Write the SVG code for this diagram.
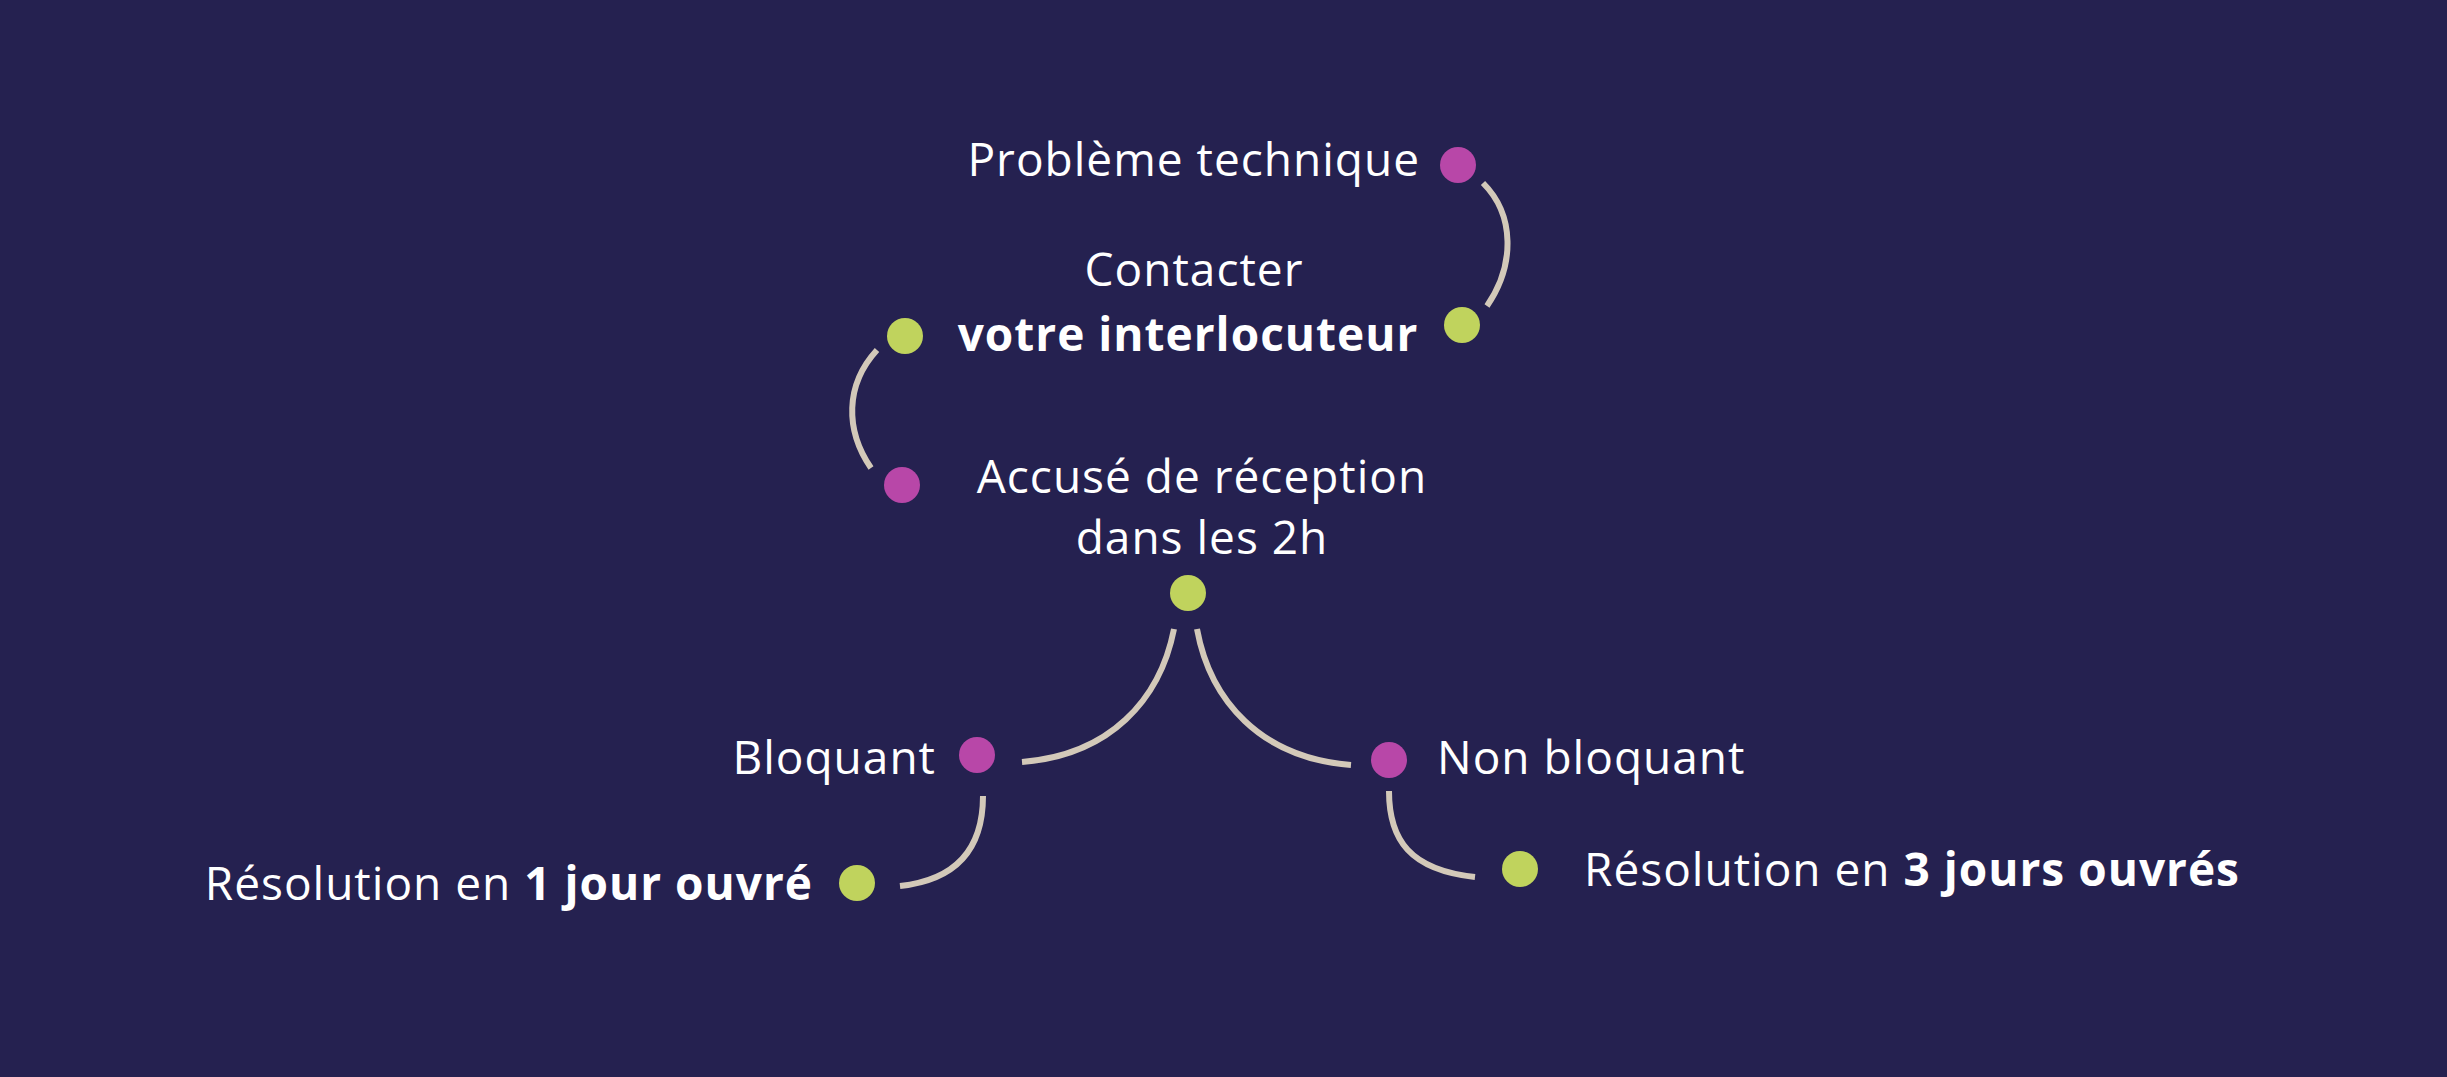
<svg xmlns="http://www.w3.org/2000/svg" width="2447" height="1077" viewBox="0 0 2447 1077">
<style>
.t{font-family:"Open Sans","Noto Sans",sans-serif;font-size:46px;fill:#fff;letter-spacing:1px}
.b{font-weight:bold}
.m{fill:#b847a8}.g{fill:#c0d35d}
.c{fill:none;stroke:#d3c9b9;stroke-width:6}
</style>
<rect width="2447" height="1077" fill="#252150"/>
<g id="connectors">
<path class="c" d="M1483 183 C1515 215 1515 265 1487 306"/>
<path class="c" d="M877 350 C845 385 845 430 871 468"/>
<path class="c" d="M1174 629 C1160 700 1110 755 1022 762"/>
<path class="c" d="M1197 629 C1210 700 1260 758 1351 765"/>
<path class="c" d="M983 796 C983 850 955 880 900 886"/>
<path class="c" d="M1389 791 C1389 840 1410 870 1475 877"/>
</g>
<g id="n1"><circle class="m" cx="1458" cy="165" r="18"/><text class="t" x="1420" y="176" text-anchor="end">Problème technique</text></g>
<g id="n2"><circle class="g" cx="1462" cy="325" r="18"/><circle class="g" cx="905" cy="336" r="18"/><text class="t" x="1194" y="286" text-anchor="middle">Contacter</text><text class="t b" x="1188" y="351" text-anchor="middle">votre interlocuteur</text></g>
<g id="n3"><circle class="m" cx="902" cy="485" r="18"/><text class="t" x="1202" y="493" text-anchor="middle">Accusé de réception</text><text class="t" x="1202" y="554" text-anchor="middle">dans les 2h</text><circle class="g" cx="1188" cy="593" r="18"/></g>
<g id="n4"><circle class="m" cx="977" cy="755" r="18"/><text class="t" x="936" y="774" text-anchor="end">Bloquant</text></g>
<g id="n5"><circle class="m" cx="1389" cy="760" r="18"/><text class="t" x="1437" y="774">Non bloquant</text></g>
<g id="n6"><circle class="g" cx="857" cy="883" r="18"/><text class="t" x="813" y="900" text-anchor="end">Résolution en <tspan class="b">1 jour ouvré</tspan></text></g>
<g id="n7"><circle class="g" cx="1520" cy="869" r="18"/><text class="t" x="1584" y="886">Résolution en <tspan class="b">3 jours ouvrés</tspan></text></g>
</svg>
